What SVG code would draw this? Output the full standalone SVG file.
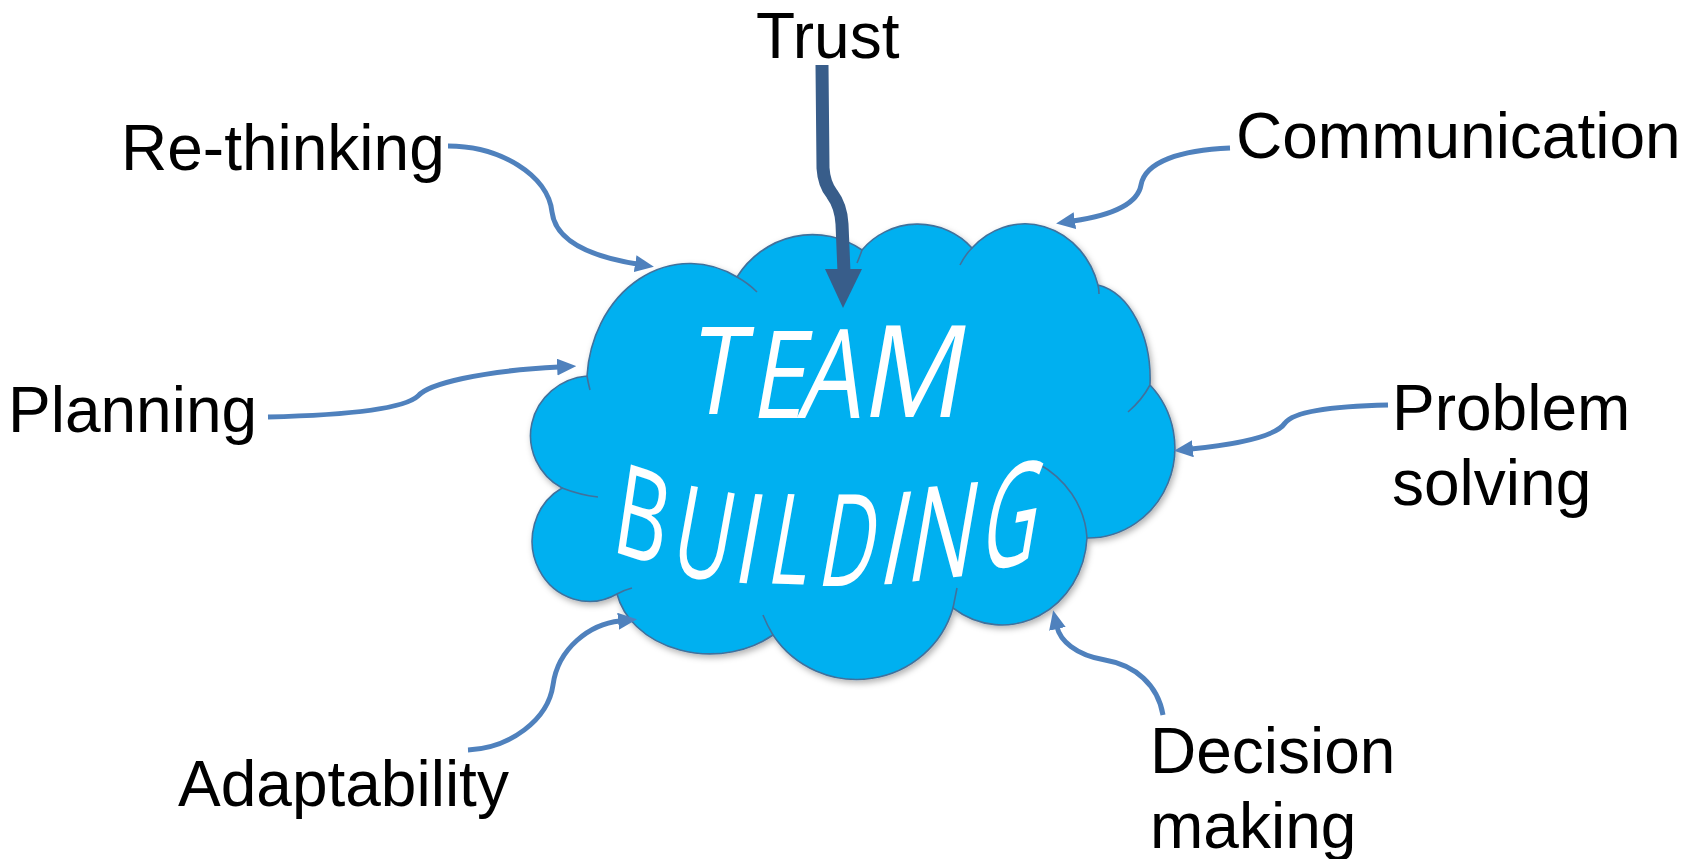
<svg xmlns="http://www.w3.org/2000/svg" width="1694" height="859" viewBox="0 0 1694 859">
<style>
.lbl{font-family:"Liberation Sans",Arial,sans-serif;font-size:64px;fill:#000}
.arr{fill:none;stroke:#4F81BD;stroke-width:5;marker-end:url(#ah)}
.cl{fill:#00B0F0;stroke:#41719C;stroke-width:1.6}
.inner{fill:none;stroke:#41719C;stroke-width:1.6}
.tb{font-family:"Open Sans","Noto Sans",sans-serif;font-weight:500;fill:#fff;text-anchor:middle}
.bb{font-family:"Open Sans","Noto Sans",sans-serif;font-weight:400;fill:#fff;text-anchor:middle}
</style>
<defs>
<marker id="ah" viewBox="0 0 10 10" refX="1" refY="5" markerUnits="userSpaceOnUse" markerWidth="19" markerHeight="17" preserveAspectRatio="none" orient="auto">
<path d="M0,0 L10,5 L0,10 z" fill="#4F81BD"/>
</marker>
<filter id="sh" x="-10%" y="-10%" width="120%" height="125%">
<feDropShadow dx="2" dy="3" stdDeviation="3" flood-color="#000" flood-opacity="0.3"/>
</filter>
</defs>
<g id="cloud">
<path class="cl" filter="url(#sh)" d="M587,376 A103,121 0 0 1 737,277 A90,93 0 0 1 862,250 A72,70 0 0 1 972,248 A76,85 0 0 1 1098,285 A62,95 0 0 1 1150,385 A87,90 0 0 1 1087,538 A85,92 0 0 1 953,608 A100,98 0 0 1 773,635 A95,75 0 0 1 617,594 A57,60 0 0 1 562,488 A62,60 0 0 1 587,376 Z"/>
<path class="inner" d="M587,376 Q588,382 590,390 M737,277 Q748,283 757,292 M862,250 Q860,256 857,263 M972,248 Q965,255 960,265 M1098,285 Q1099,289 1099,294 M1150,385 Q1142,400 1128,412 M1087,538 C1085,505 1065,478 1037,463 M953,608 Q955,598 957,588 M773,635 Q767,625 763,615 M617,594 Q624,590 632,588 M562,488 Q580,495 598,497"/>
<g id="title">
<text class="tb" font-size="122" transform="translate(713,414) skewX(-10) scale(0.8,1)">T</text>
<text class="tb" font-size="122" transform="translate(776,418) skewX(-10) scale(0.8,1)">E</text>
<text class="tb" font-size="124" transform="translate(828,418) skewX(-10) scale(0.8,1)">A</text>
<text class="tb" font-size="128" transform="translate(910,417) skewX(-10) scale(0.88,1)">M</text>
<text class="bb" font-size="130" transform="translate(636,559) skewY(18) skewX(-8) scale(0.62,1)">B</text>
<text class="bb" font-size="128" transform="translate(697,578) skewY(10) skewX(-10) scale(0.62,1)">U</text>
<text class="bb" font-size="126" transform="translate(743,583) skewY(4) skewX(-10) scale(0.7,1)">I</text>
<text class="bb" font-size="126" transform="translate(785,584) skewY(2) skewX(-10) scale(0.62,1)">L</text>
<text class="bb" font-size="128" transform="translate(843,586) skewY(0) skewX(-10) scale(0.6,1)">D</text>
<text class="bb" font-size="128" transform="translate(888,584) skewY(-3) skewX(-12) scale(0.7,1)">I</text>
<text class="bb" font-size="130" transform="translate(937,579) skewY(-6) skewX(-10) scale(0.68,1)">N</text>
<text class="bb" font-size="140" transform="translate(1005,567) skewY(-12) skewX(-10) scale(0.55,1)">G</text>
</g>
</g>
<g id="connectors">
<path class="arr" d="M448,146 C500,146 548,175 552,212 C556,245 600,258 637,264"/>
<path class="arr" d="M1230,148 C1180,150 1145,162 1141,185 C1137,208 1100,217 1073,221"/>
<path class="arr" d="M268,417 C350,415 405,408 418,396 C428,384 480,371 559,367"/>
<path class="arr" d="M1388,405 C1340,406 1295,410 1285,423 C1275,438 1230,445 1191,449"/>
<path class="arr" d="M468,750 C510,748 548,720 553,685 C558,648 590,624 620,621"/>
<path class="arr" d="M1163,715 C1158,685 1135,665 1105,660 C1075,655 1060,640 1057,627"/>
<path d="M822,65 L823,168 Q824,184 832,194 Q841,206 842,224 L844,272" fill="none" stroke="#385D8A" stroke-width="13"/>
<polygon points="825,269 862,269 843,308" fill="#385D8A"/>
</g>
<g id="n-trust"><text class="lbl" x="756" y="58">Trust</text></g>
<g id="n-rethinking"><text class="lbl" x="121" y="170">Re-thinking</text></g>
<g id="n-communication"><text class="lbl" x="1236" y="158">Communication</text></g>
<g id="n-planning"><text class="lbl" x="8" y="432">Planning</text></g>
<g id="n-problem"><text class="lbl" x="1392" y="430">Problem</text><text class="lbl" x="1392" y="505">solving</text></g>
<g id="n-adaptability"><text class="lbl" x="178" y="806">Adaptability</text></g>
<g id="n-decision"><text class="lbl" x="1150" y="773">Decision</text><text class="lbl" x="1150" y="848">making</text></g>
</svg>
